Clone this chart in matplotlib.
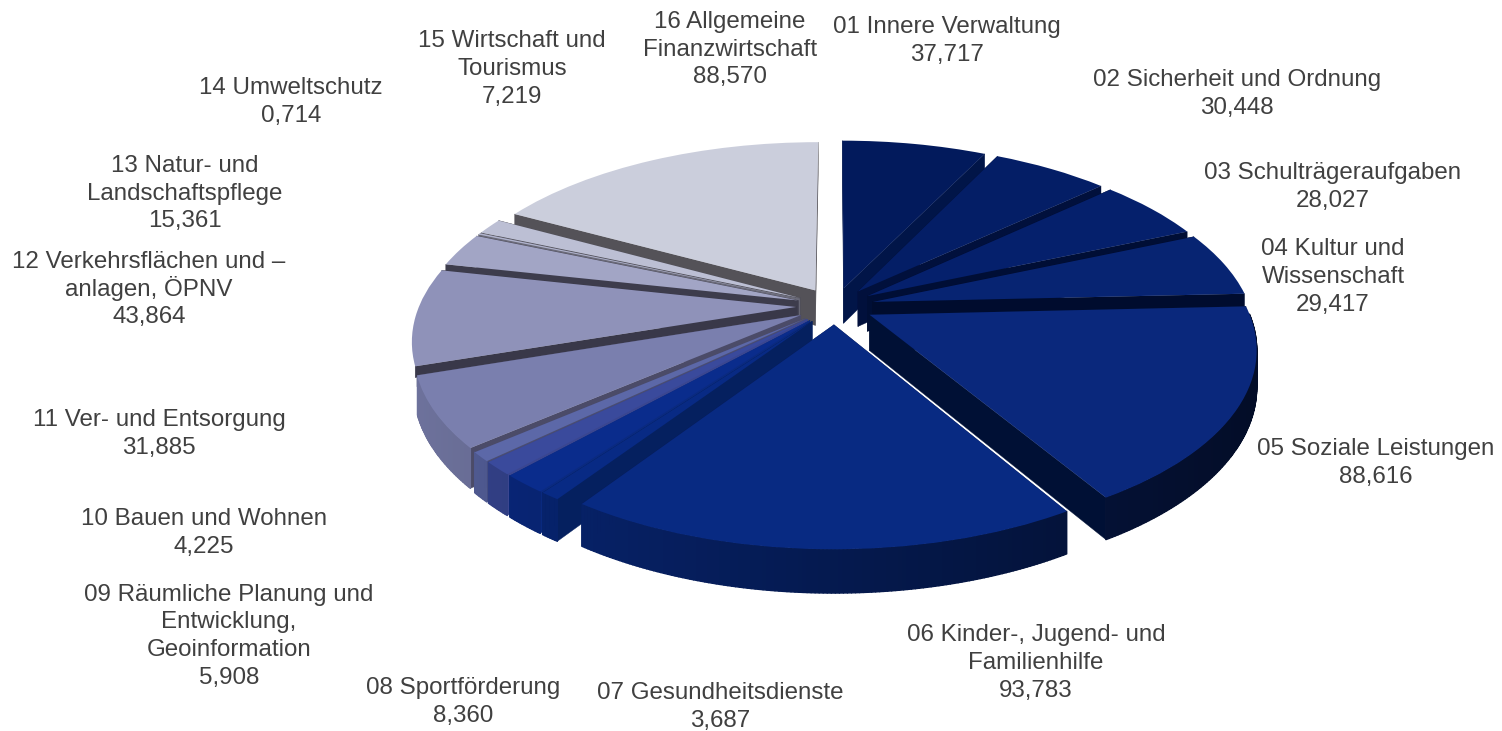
import numpy as np
import matplotlib
matplotlib.use("Agg")
import matplotlib.pyplot as plt
from matplotlib.collections import PolyCollection
from matplotlib.transforms import Transform

plt.rcParams['font.family'] = ['Liberation Sans', 'DejaVu Sans']

# ---- data ----
names = [
    "01 Innere Verwaltung", "02 Sicherheit und Ordnung", "03 Schulträgeraufgaben",
    "04 Kultur und\nWissenschaft", "05 Soziale Leistungen",
    "06 Kinder-, Jugend- und\nFamilienhilfe", "07 Gesundheitsdienste", "08 Sportförderung",
    "09 Räumliche Planung und\nEntwicklung,\nGeoinformation", "10 Bauen und Wohnen",
    "11 Ver- und Entsorgung", "12 Verkehrsflächen und –\nanlagen, ÖPNV",
    "13 Natur- und\nLandschaftspflege", "14 Umweltschutz",
    "15 Wirtschaft und\nTourismus", "16 Allgemeine\nFinanzwirtschaft",
]
values = [37.717, 30.448, 28.027, 29.417, 88.616, 93.783, 3.687, 8.360,
          5.908, 4.225, 31.885, 43.864, 15.361, 0.714, 7.219, 88.570]

# ---- style ----
top_colors = ["#021a5c", "#041e66", "#05206c", "#072472", "#0a287c", "#082a82",
              "#082a84", "#0a2c8c", "#3a4a9c", "#5c68a8", "#7a7fae", "#8f92b9",
              "#a2a5c5", "#b0b3cd", "#bcbfd4", "#cbcedc"]
face_colors = ["#011548", "#01103c", "#000e35", "#000c2e", "#001035", "#061c5c",
               "#05205f", "#0a2a80", "#3a4690", "#4a4d72", "#4b4b68", "#393849",
               "#3d3c4c", "#6a6a78", "#504f58", "#545258"]
label_xy = [(947, 39), (1237, 92), (1333, 185), (1333, 275), (1376, 461), (1036, 661),
            (720, 705.5), (463, 700), (229, 634.5), (204, 531), (159, 432), (149, 288),
            (185, 192), (291, 100), (512, 67), (730, 48)]
TEXT = "#404040"
LINE_STEP = 27.8
BASELINE_DROP = 7.7
CX, CY, R0, K, P, D = 835.0, 306.0, 377.0, 0.474, 0.172, 35.5
EXPL = 0.103


def project(X, Y, z=0.0):
    X, Y = np.asarray(X, float), np.asarray(Y, float)
    s = 1.0 / (1.0 + P * Y)
    return CX + R0 * X * s, CY - (K * R0 * Y - D * z) * s


class Persp(Transform):
    input_dims = output_dims = 2
    is_separable = False
    has_inverse = False

    def transform_non_affine(self, v):
        x, y = project(v[:, 0], v[:, 1])
        return np.column_stack([x, y])


def shade(color, x):
    rgb = np.array(matplotlib.colors.to_rgb(color))
    f = np.interp(x, [410, 1257], [0.90, 0.32])
    return tuple(rgb * f)


fig = plt.figure(figsize=(15.02, 7.31), dpi=100, facecolor="white")
ax = fig.add_axes([0, 0, 1, 1])
wedges, _ = ax.pie(values, explode=[EXPL] * len(values), colors=top_colors, startangle=90,
                   counterclock=False, radius=1.0, wedgeprops=dict(linewidth=0))
ax.set_aspect("auto")
ax.set_xlim(0, 1502)
ax.set_ylim(731, 0)
ax.axis("off")

tr = Persp() + ax.transData
order = sorted(range(len(wedges)), key=lambda i: -wedges[i].center[1])
for rank, i in enumerate(order):
    w = wedges[i]
    cx, cy = w.center
    t = np.radians(np.linspace(w.theta1, w.theta2, max(3, int((w.theta2 - w.theta1) / 0.5) + 2)))
    ox, oy = cx + w.r * np.cos(t), cy + w.r * np.sin(t)
    base = rank * 3 + 2
    # radial side faces
    polys = []
    for a in (0, -1):
        # a face ending on the far left is hidden lower down by its neighbour
        hidden = np.cos(t[a]) < 0 and -0.32 <= np.sin(t[a]) < 0
        zo = 0.3 if hidden else 1.0
        ax0, ay0 = project(cx, cy, 0)
        bx0, by0 = project(ox[a], oy[a], 0)
        bx1, by1 = project(ox[a], oy[a], zo)
        ax1, ay1 = project(cx, cy, 1)
        polys.append(np.column_stack([[ax0, bx0, bx1, ax1], [ay0, by0, by1, ay1]]))
    ax.add_collection(PolyCollection(polys, facecolors=face_colors[i], edgecolors=face_colors[i],
                                     linewidths=0.3, zorder=base))
    # outer wall (only the part facing the viewer), shaded by its screen position
    xa, ya = project(ox, oy, 0)
    xb, yb = project(ox, oy, 1)
    quads, cols = [], []
    for j in range(len(t) - 1):
        tm = 0.5 * (t[j] + t[j + 1])
        limit = -0.32 if np.cos(tm) < 0 else 0.0
        if np.sin(tm) > limit:
            continue
        quads.append(np.column_stack([[xa[j], xa[j + 1], xb[j + 1], xb[j]],
                                      [ya[j], ya[j + 1], yb[j + 1], yb[j]]]))
        cols.append(shade(top_colors[i], 0.5 * (xa[j] + xa[j + 1])))
    if quads:
        ax.add_collection(PolyCollection(quads, facecolors=cols, edgecolors=cols,
                                         linewidths=1.0, zorder=base + 1))
    w.set_transform(tr)
    w.set_zorder(base + 2)

for name, v, (x, y) in zip(names, values, label_xy):
    lines = f"{name}\n{v:.3f}".replace(".", ",").split("\n")
    for k, line in enumerate(lines):
        yy = y + (k - (len(lines) - 1) / 2) * LINE_STEP + BASELINE_DROP
        ax.text(x, yy, line, ha="center", va="baseline", fontsize=17.4, color=TEXT, zorder=500)

fig.savefig("out.png", dpi=100, facecolor="white")
